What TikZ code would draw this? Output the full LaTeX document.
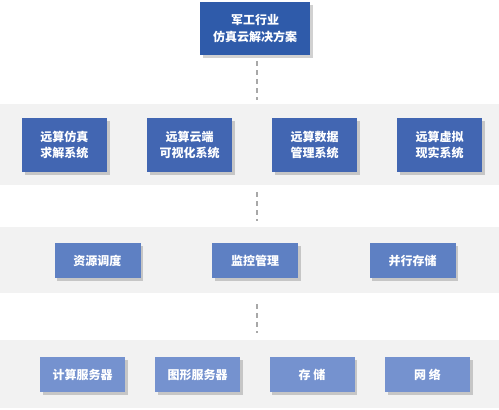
\documentclass[tikz,border=0pt]{standalone}
\usepackage{fontspec}
\newfontfamily\cjk{Noto Sans CJK SC}
\usetikzlibrary{shadows}
\definecolor{cTop}{HTML}{2F5BAA}
\definecolor{cR1}{HTML}{4266B2}
\definecolor{cR2}{HTML}{5E80C3}
\definecolor{cR3}{HTML}{7592CF}
\definecolor{band}{HTML}{F2F2F2}
\definecolor{dash}{HTML}{A8A8A8}
\tikzset{
  boxbase/.style={draw=none, text=white, align=center, inner sep=0pt,
    font=\cjk\bfseries\fontsize{12}{16.5}\selectfont,
    drop shadow={opacity=0.18, shadow xshift=2.5pt, shadow yshift=-2.5pt, fill=black}},
  topbox/.style={boxbase, fill=cTop, minimum width=110pt, minimum height=53pt},
  rowone/.style={boxbase, fill=cR1, minimum width=85pt, minimum height=54pt},
  rowtwo/.style={boxbase, fill=cR2, minimum width=86pt, minimum height=35pt},
  rowthree/.style={boxbase, fill=cR3, minimum width=85pt, minimum height=35pt},
  bandbg/.style={fill=band, draw=none},
  dashline/.style={draw=dash, line width=1.2pt, dash pattern=on 5pt off 4pt}
}
\begin{document}
\begin{tikzpicture}[x=1pt,y=-1pt]
\useasboundingbox (0,0) rectangle (499,410);
\fill[white] (0,0) rectangle (499,410);
% bands
\path[bandbg] (0,104) rectangle (499,185);
\path[bandbg] (0,227) rectangle (499,293);
\path[bandbg] (0,340) rectangle (499,408);
% dashed connectors
\coordinate (d1a) at (257,61);
\coordinate (d1b) at (257,100);
\coordinate (d2a) at (257,192);
\coordinate (d2b) at (257,221);
\coordinate (d3a) at (257,304);
\coordinate (d3b) at (257,333);
\draw[dashline] (d1a) -- (d1b);
\draw[dashline] (d2a) -- (d2b);
\draw[dashline] (d3a) -- (d3b);
% top
\node[topbox] (top) at (255,28.5) {军工行业\\仿真云解决方案};
% row 1
\node[rowone] (a1) at (64.5,145) {远算仿真\\求解系统};
\node[rowone] (a2) at (189.5,145) {远算云端\\可视化系统};
\node[rowone] (a3) at (314.5,145) {远算数据\\管理系统};
\node[rowone] (a4) at (439.5,145) {远算虚拟\\现实系统};
% row 2
\node[rowtwo] (b1) at (97.5,260.5) {资源调度};
\node[rowtwo] (b2) at (255,260.5) {监控管理};
\node[rowtwo] (b3) at (412.5,260.5) {并行存储};
% row 3
\node[rowthree] (c1) at (82.5,374.5) {计算服务器};
\node[rowthree] (c2) at (197.5,374.5) {图形服务器};
\node[rowthree] (c3) at (312,374.5) {存 储};
\node[rowthree] (c4) at (427.5,374.5) {网 络};
\end{tikzpicture}
\end{document}
